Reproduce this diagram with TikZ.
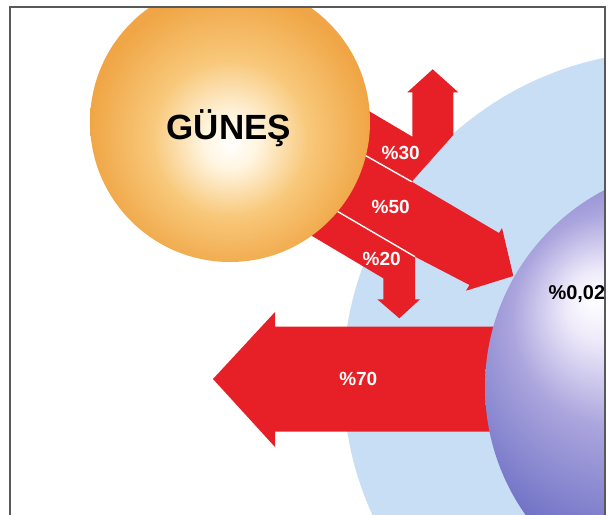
\documentclass[tikz,border=0pt]{standalone}
\usepackage{fontspec}
\setmainfont{Liberation Sans}

\definecolor{okkirmizi}{RGB}{230,32,38}
\definecolor{atmosmavi}{RGB}{200,222,245}
\definecolor{gunesic}{RGB}{255,244,222}
\definecolor{gunesorta}{RGB}{248,200,122}
\definecolor{gunesdis}{RGB}{240,166,70}
\definecolor{dunyaic}{RGB}{238,234,250}
\definecolor{dunyaorta}{RGB}{172,166,222}
\definecolor{dunyakoyu}{RGB}{112,114,198}
\definecolor{dunyadis}{RGB}{72,80,172}

% glow of the two spheres (highlight shifted off centre)
\pgfdeclareradialshading{gunesisik}{\pgfpoint{0bp}{-4bp}}{%
  color(0bp)=(white); color(5bp)=(gunesic); color(14bp)=(gunesorta);
  color(25bp)=(gunesdis); color(50bp)=(gunesdis)}
\pgfdeclareradialshading{dunyaisik}{\pgfpoint{-13bp}{10bp}}{%
  color(0bp)=(white); color(4bp)=(dunyaic); color(12bp)=(dunyaorta);
  color(24bp)=(dunyakoyu); color(36bp)=(dunyadis); color(50bp)=(dunyadis)}

\begin{document}
\begin{tikzpicture}[
    x=1pt, y=-1pt,
    atmos/.style={circle, fill=atmosmavi, inner sep=0pt, minimum size=656pt},
    govde/.style={circle, inner sep=0pt, shade, shading=#1},
    ok/.style={fill=okkirmizi},
    ayrac/.style={draw=white, line width=1.4pt},
    oran/.style={text=white, font=\bfseries\fontsize{19}{22}\selectfont, inner sep=0pt, anchor=base},
    baslik/.style={font=\bfseries\fontsize{35}{40}\selectfont, inner sep=0pt, anchor=base},
    cerceve/.style={draw=black!65, line width=1.2pt},
]
\useasboundingbox (0,0) rectangle (613,514);
\fill[white] (0,0) rectangle (613,514);

\begin{scope}
\clip (10,7) rectangle (605,514);

% ── Atmosphere ───────────────────────────────────────────────
\node[atmos] (atmosfer) at (671,379) {};

% ── Reflected part (big arrow to the left) ──────────────────
\fill[ok] (213,379) -- (275,312) -- (275,326.7) -- (500,326.7)
    -- (500,431.7) -- (275,431.7) -- (275,447) -- cycle;

% ── Incoming bands ───────────────────────────────────────────
% %30 : bends upwards
\fill[ok] (335.6,91.3) -- (412.3,136.7) -- (412.3,92.3) -- (407.3,92.3)
    -- (432.7,69.3) -- (458.3,92.3) -- (453.3,92.3) -- (453.3,135)
    -- (411.7,181.7) -- (331.6,136.3) -- cycle;
% %50 : straight on to the planet
\fill[ok] (331.6,136.3) -- (411.7,181.7) -- (499,233) -- (502,228)
    -- (513.3,276) -- (466,290.7) -- (469.5,285) -- (415,256.7)
    -- (303.6,191.6) -- cycle;
% %20 : bends downwards
\fill[ok] (303.6,191.6) -- (415,256.7) -- (415,299.3) -- (420,299.3)
    -- (399.3,318.3) -- (377.3,299.3) -- (383.3,299.3) -- (383.3,278.3)
    -- (279,216.3) -- cycle;

\draw[ayrac] (331.6,136.3) -- (411.7,181.7);
\draw[ayrac] (303.6,191.6) -- (415,256.7);

% ── Sun and planet ───────────────────────────────────────────
\node[govde=gunesisik, minimum size=280pt] (gunes) at (230,122) {};
\node[govde=dunyaisik, minimum size=444pt] (dunya) at (707,387) {};

% ── Labels ───────────────────────────────────────────────────
\node[baslik] (gunesad) at (229,139) {GÜNEŞ};

\node[oran] (p30) at (400.7,159.3) {\%30};
\node[oran] (p50) at (390.7,213.3) {\%50};
\node[oran] (p20) at (381.7,265)   {\%20};
\node[oran] (p70) at (358.3,385)   {\%70};

\node[font=\bfseries\fontsize{20}{22}\selectfont, inner sep=0pt,
      anchor=base west] (p002) at (548.3,299.5) {\%0,02};
\end{scope}

% ── Frame ────────────────────────────────────────────────────
\draw[cerceve] (10,520) -- (10,7) -- (605,7) -- (605,520);

\end{tikzpicture}
\end{document}
